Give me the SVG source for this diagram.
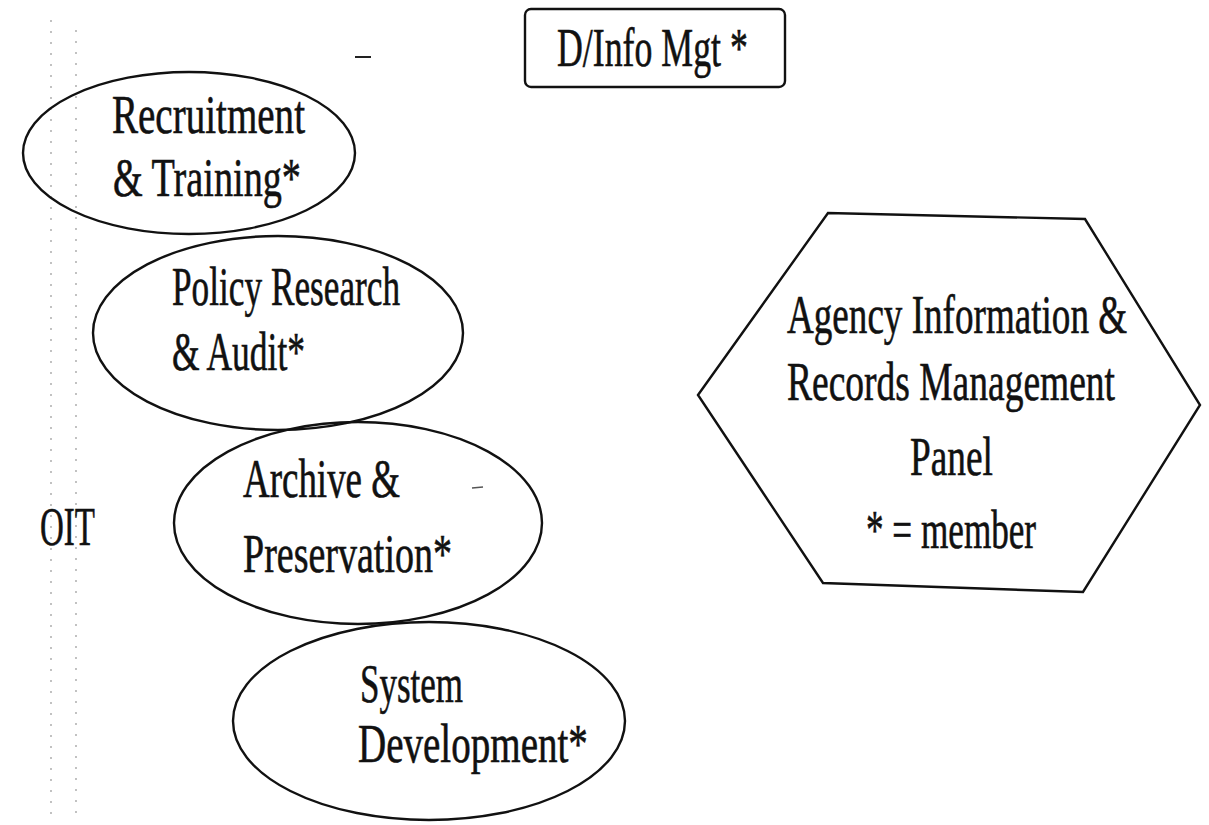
<svg xmlns="http://www.w3.org/2000/svg" width="1209" height="825" viewBox="0 0 1209 825">
<style>
.shape{fill:none;stroke:#111;stroke-width:2.4}
.t{font-family:"Liberation Serif","Times New Roman",serif;font-size:55px;fill:#111;stroke:#111;stroke-width:0.6}
.scan{stroke:#999;stroke-width:1.2;stroke-dasharray:2 9;fill:none}
</style>
<rect width="1209" height="825" fill="#fff"/>
<g id="scan-marks">
<line class="scan" x1="51" y1="20" x2="51" y2="820"/>
<line class="scan" x1="76" y1="30" x2="76" y2="820"/>
<line x1="355" y1="57" x2="371" y2="57" stroke="#222" stroke-width="2"/>
<line x1="472" y1="488" x2="483" y2="487" stroke="#555" stroke-width="1.5"/>
</g>
<g id="connectors"></g>
<g id="dinfo">
<rect class="shape" x="525" y="9" width="260" height="78" rx="6"/>
<text class="t" transform="translate(557,66) scale(0.651,1)">D/Info Mgt *</text>
</g>
<g id="recruitment">
<ellipse class="shape" cx="189" cy="153" rx="166" ry="81"/>
<text class="t" transform="translate(112,133) scale(0.71,1)">Recruitment</text>
<text class="t" transform="translate(113,196) scale(0.695,1)">&amp; Training*</text>
</g>
<g id="policy">
<ellipse class="shape" cx="278" cy="333" rx="185" ry="97"/>
<text class="t" transform="translate(172,305) scale(0.641,1)">Policy Research</text>
<text class="t" transform="translate(172,370) scale(0.645,1)">&amp; Audit*</text>
</g>
<g id="archive">
<ellipse class="shape" cx="358" cy="523" rx="184" ry="101"/>
<text class="t" transform="translate(243,497) scale(0.672,1)">Archive &amp;</text>
<text class="t" transform="translate(243,572) scale(0.691,1)">Preservation*</text>
</g>
<g id="system">
<ellipse class="shape" cx="429" cy="721" rx="196" ry="99"/>
<text class="t" transform="translate(360,702) scale(0.636,1)">System</text>
<text class="t" transform="translate(358,762) scale(0.71,1)">Development*</text>
</g>
<g id="oit">
<text class="t" transform="translate(40,545) scale(0.6,1)">OIT</text>
</g>
<g id="panel">
<polygon class="shape" points="698,395 828,213 1085,219 1200,405 1083,592 823,583"/>
<text class="t" transform="translate(787,333) scale(0.675,1)">Agency Information &amp;</text>
<text class="t" transform="translate(787,400) scale(0.682,1)">Records Management</text>
<text class="t" transform="translate(910,475) scale(0.679,1)">Panel</text>
<text class="t" transform="translate(866,548) scale(0.639,1)">* = member</text>
</g>
</svg>
